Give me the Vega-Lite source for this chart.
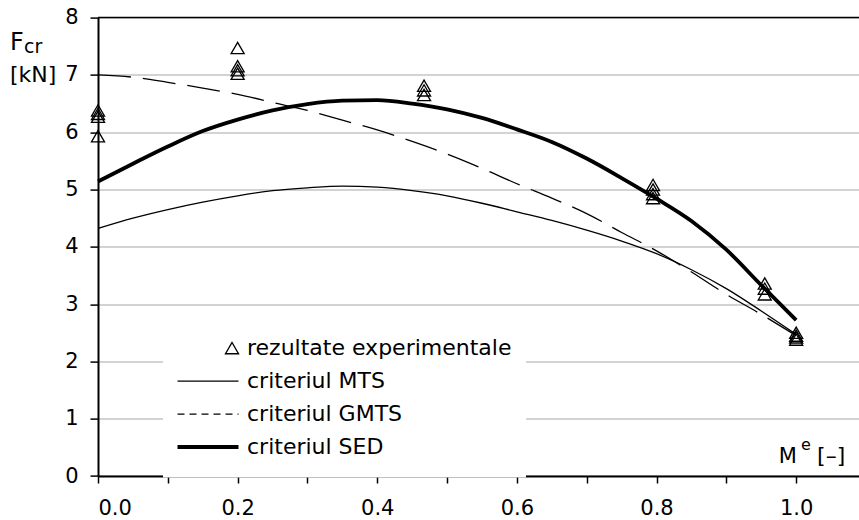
{
  "$schema": "https://vega.github.io/schema/vega-lite/v6.json",
  "width": 761,
  "height": 458.4,
  "autosize": {"type": "none"},
  "padding": {"left": 98, "top": 17.6, "right": 0, "bottom": 44},
  "background": "white",
  "config": {"view": {"stroke": null}, "font": "DejaVu Sans"},
  "datasets": {
    "curves": [
      {"x": 0.0, "F": 4.32, "series": "criteriul MTS"},
      {"x": 0.05, "F": 4.5, "series": "criteriul MTS"},
      {"x": 0.1, "F": 4.65, "series": "criteriul MTS"},
      {"x": 0.15, "F": 4.78, "series": "criteriul MTS"},
      {"x": 0.2, "F": 4.89, "series": "criteriul MTS"},
      {"x": 0.25, "F": 4.98, "series": "criteriul MTS"},
      {"x": 0.3, "F": 5.03, "series": "criteriul MTS"},
      {"x": 0.35, "F": 5.06, "series": "criteriul MTS"},
      {"x": 0.4, "F": 5.04, "series": "criteriul MTS"},
      {"x": 0.45, "F": 4.98, "series": "criteriul MTS"},
      {"x": 0.5, "F": 4.89, "series": "criteriul MTS"},
      {"x": 0.55, "F": 4.76, "series": "criteriul MTS"},
      {"x": 0.6, "F": 4.61, "series": "criteriul MTS"},
      {"x": 0.65, "F": 4.46, "series": "criteriul MTS"},
      {"x": 0.7, "F": 4.29, "series": "criteriul MTS"},
      {"x": 0.75, "F": 4.1, "series": "criteriul MTS"},
      {"x": 0.8, "F": 3.88, "series": "criteriul MTS"},
      {"x": 0.85, "F": 3.6, "series": "criteriul MTS"},
      {"x": 0.9, "F": 3.27, "series": "criteriul MTS"},
      {"x": 0.95, "F": 2.88, "series": "criteriul MTS"},
      {"x": 1.0, "F": 2.47, "series": "criteriul MTS"},
      {"x": 0.0, "F": 7.0, "series": "criteriul GMTS"},
      {"x": 0.05, "F": 6.96, "series": "criteriul GMTS"},
      {"x": 0.1, "F": 6.87, "series": "criteriul GMTS"},
      {"x": 0.15, "F": 6.77, "series": "criteriul GMTS"},
      {"x": 0.2, "F": 6.66, "series": "criteriul GMTS"},
      {"x": 0.25, "F": 6.52, "series": "criteriul GMTS"},
      {"x": 0.3, "F": 6.38, "series": "criteriul GMTS"},
      {"x": 0.35, "F": 6.21, "series": "criteriul GMTS"},
      {"x": 0.4, "F": 6.04, "series": "criteriul GMTS"},
      {"x": 0.45, "F": 5.84, "series": "criteriul GMTS"},
      {"x": 0.5, "F": 5.62, "series": "criteriul GMTS"},
      {"x": 0.55, "F": 5.37, "series": "criteriul GMTS"},
      {"x": 0.6, "F": 5.1, "series": "criteriul GMTS"},
      {"x": 0.65, "F": 4.85, "series": "criteriul GMTS"},
      {"x": 0.7, "F": 4.58, "series": "criteriul GMTS"},
      {"x": 0.75, "F": 4.25, "series": "criteriul GMTS"},
      {"x": 0.8, "F": 3.93, "series": "criteriul GMTS"},
      {"x": 0.85, "F": 3.56, "series": "criteriul GMTS"},
      {"x": 0.9, "F": 3.17, "series": "criteriul GMTS"},
      {"x": 0.95, "F": 2.82, "series": "criteriul GMTS"},
      {"x": 1.0, "F": 2.45, "series": "criteriul GMTS"},
      {"x": 0.0, "F": 5.14, "series": "criteriul SED"},
      {"x": 0.05, "F": 5.45, "series": "criteriul SED"},
      {"x": 0.1, "F": 5.75, "series": "criteriul SED"},
      {"x": 0.15, "F": 6.02, "series": "criteriul SED"},
      {"x": 0.2, "F": 6.22, "series": "criteriul SED"},
      {"x": 0.25, "F": 6.38, "series": "criteriul SED"},
      {"x": 0.3, "F": 6.49, "series": "criteriul SED"},
      {"x": 0.35, "F": 6.55, "series": "criteriul SED"},
      {"x": 0.4, "F": 6.56, "series": "criteriul SED"},
      {"x": 0.45, "F": 6.5, "series": "criteriul SED"},
      {"x": 0.5, "F": 6.4, "series": "criteriul SED"},
      {"x": 0.55, "F": 6.25, "series": "criteriul SED"},
      {"x": 0.6, "F": 6.05, "series": "criteriul SED"},
      {"x": 0.65, "F": 5.83, "series": "criteriul SED"},
      {"x": 0.7, "F": 5.54, "series": "criteriul SED"},
      {"x": 0.75, "F": 5.2, "series": "criteriul SED"},
      {"x": 0.8, "F": 4.84, "series": "criteriul SED"},
      {"x": 0.85, "F": 4.45, "series": "criteriul SED"},
      {"x": 0.9, "F": 3.95, "series": "criteriul SED"},
      {"x": 0.95, "F": 3.33, "series": "criteriul SED"},
      {"x": 1.0, "F": 2.72, "series": "criteriul SED"}
    ],
    "points": [
      {"x": 0.0, "F": 6.38, "series": "rezultate experimentale"},
      {"x": 0.0, "F": 6.32, "series": "rezultate experimentale"},
      {"x": 0.0, "F": 6.27, "series": "rezultate experimentale"},
      {"x": 0.0, "F": 5.93, "series": "rezultate experimentale"},
      {"x": 0.2, "F": 7.47, "series": "rezultate experimentale"},
      {"x": 0.2, "F": 7.15, "series": "rezultate experimentale"},
      {"x": 0.2, "F": 7.08, "series": "rezultate experimentale"},
      {"x": 0.2, "F": 7.02, "series": "rezultate experimentale"},
      {"x": 0.467, "F": 6.81, "series": "rezultate experimentale"},
      {"x": 0.467, "F": 6.73, "series": "rezultate experimentale"},
      {"x": 0.467, "F": 6.65, "series": "rezultate experimentale"},
      {"x": 0.795, "F": 5.08, "series": "rezultate experimentale"},
      {"x": 0.795, "F": 5.0, "series": "rezultate experimentale"},
      {"x": 0.795, "F": 4.92, "series": "rezultate experimentale"},
      {"x": 0.795, "F": 4.85, "series": "rezultate experimentale"},
      {"x": 0.955, "F": 3.36, "series": "rezultate experimentale"},
      {"x": 0.955, "F": 3.27, "series": "rezultate experimentale"},
      {"x": 0.955, "F": 3.17, "series": "rezultate experimentale"},
      {"x": 1.0, "F": 2.5, "series": "rezultate experimentale"},
      {"x": 1.0, "F": 2.45, "series": "rezultate experimentale"},
      {"x": 1.0, "F": 2.42, "series": "rezultate experimentale"},
      {"x": 1.0, "F": 2.38, "series": "rezultate experimentale"}
    ]
  },
  "layer": [
    {
      "data": {"values": [{}]},
      "mark": {"type": "rule", "color": "black", "strokeWidth": 1.5},
      "encoding": {"y": {"datum": 8, "type": "quantitative"}}
    },
    {
      "data": {"name": "curves"},
      "transform": [{"filter": "datum.series === 'criteriul MTS'"}],
      "mark": {"type": "line", "strokeWidth": 1.3, "interpolate": "monotone"},
      "encoding": {
        "x": {
          "field": "x", "type": "quantitative",
          "scale": {"domain": [0, 1.09], "nice": false, "zero": false},
          "axis": {
            "values": [0, 0.1, 0.2, 0.3, 0.4, 0.5, 0.6, 0.7, 0.8, 0.9, 1.0],
            "labelExpr": "round(datum.value * 10) % 2 == 0 ? format(datum.value, '.1f') : ''",
            "labelOverlap": false,
            "grid": false,
            "title": null,
            "domainColor": "black",
            "domainWidth": 2,
            "tickColor": "black",
            "tickWidth": 1.5,
            "tickSize": 7,
            "labelFontSize": 21,
            "labelColor": "black",
            "labelPadding": 14
          }
        },
        "y": {
          "field": "F", "type": "quantitative",
          "scale": {"domain": [0, 8], "nice": false},
          "axis": {
            "values": [0, 1, 2, 3, 4, 5, 6, 7, 8],
            "format": "d",
            "grid": true,
            "gridColor": "#c4c4c4",
            "gridWidth": 1.5,
            "title": null,
            "domainColor": "black",
            "domainWidth": 2,
            "tickColor": "black",
            "tickWidth": 1.5,
            "tickSize": 8,
            "labelFontSize": 21,
            "labelColor": "black",
            "labelPadding": 12
          }
        },
        "color": {
          "field": "series", "type": "nominal",
          "scale": {
            "domain": ["rezultate experimentale", "criteriul MTS", "criteriul GMTS", "criteriul SED"],
            "range": ["black", "black", "black", "black"]
          },
          "legend": {
            "title": null,
            "orient": "none",
            "legendX": 65,
            "legendY": 300,
            "direction": "vertical",
            "columns": 1,
            "padding": 14,
            "fillColor": "white",
            "clipHeight": 33,
            "rowPadding": 0,
            "labelFontSize": 22,
            "labelColor": "black",
            "labelOffset": 48,
            "labelLimit": 500,
            "symbolType": "stroke",
            "symbolSize": 3721,
            "encode": {
              "symbols": {
                "update": {
                  "shape": {"signal": "datum.value === 'rezultate experimentale' ? 'triangle-up' : 'stroke'"},
                  "size": {"signal": "datum.value === 'rezultate experimentale' ? 170 : 3721"},
                  "x": {"signal": "datum.value === 'rezultate experimentale' ? 55 : 31"},
                  "fill": {"value": "transparent"},
                  "stroke": {"value": "black"},
                  "opacity": {"value": 1},
                  "strokeOpacity": {"value": 1},
                  "strokeDash": {"signal": "datum.value === 'criteriul GMTS' ? [7, 5] : [1, 0]"},
                  "strokeWidth": {"signal": "datum.value === 'criteriul SED' ? 4 : 1.3"}
                }
              }
            }
          }
        }
      }
    },
    {
      "data": {"name": "curves"},
      "transform": [{"filter": "datum.series === 'criteriul GMTS'"}],
      "mark": {"type": "line", "strokeWidth": 1.3, "strokeDash": [33, 12], "interpolate": "monotone"},
      "encoding": {
        "x": {"field": "x", "type": "quantitative"},
        "y": {"field": "F", "type": "quantitative"},
        "color": {"field": "series", "type": "nominal"}
      }
    },
    {
      "data": {"name": "curves"},
      "transform": [{"filter": "datum.series === 'criteriul SED'"}],
      "mark": {"type": "line", "strokeWidth": 3.8, "interpolate": "monotone"},
      "encoding": {
        "x": {"field": "x", "type": "quantitative"},
        "y": {"field": "F", "type": "quantitative"},
        "color": {"field": "series", "type": "nominal"}
      }
    },
    {
      "data": {"name": "points"},
      "mark": {"type": "point", "shape": "triangle-up", "filled": false, "size": 170, "strokeWidth": 1.3, "opacity": 1},
      "encoding": {
        "x": {"field": "x", "type": "quantitative"},
        "y": {"field": "F", "type": "quantitative"},
        "color": {"field": "series", "type": "nominal"}
      }
    },
    {
      "data": {"values": [{}]},
      "mark": {"type": "text", "align": "left", "baseline": "alphabetic", "fontSize": 24, "color": "black"},
      "encoding": {"x": {"datum": -0.126, "type": "quantitative"}, "y": {"datum": 7.43, "type": "quantitative"}, "text": {"value": "F"}}
    },
    {
      "data": {"values": [{}]},
      "mark": {"type": "text", "align": "left", "baseline": "alphabetic", "fontSize": 19, "color": "black"},
      "encoding": {"x": {"datum": -0.106, "type": "quantitative"}, "y": {"datum": 7.38, "type": "quantitative"}, "text": {"value": "cr"}}
    },
    {
      "data": {"values": [{}]},
      "mark": {"type": "text", "align": "left", "baseline": "alphabetic", "fontSize": 22, "color": "black"},
      "encoding": {"x": {"datum": -0.126, "type": "quantitative"}, "y": {"datum": 6.88, "type": "quantitative"}, "text": {"value": "[kN]"}}
    },
    {
      "data": {"values": [{}]},
      "mark": {"type": "text", "align": "left", "baseline": "alphabetic", "fontSize": 21, "color": "black"},
      "encoding": {"x": {"datum": 0.975, "type": "quantitative"}, "y": {"datum": 0.22, "type": "quantitative"}, "text": {"value": "M"}}
    },
    {
      "data": {"values": [{}]},
      "mark": {"type": "text", "align": "left", "baseline": "alphabetic", "fontSize": 16, "color": "black"},
      "encoding": {"x": {"datum": 1.007, "type": "quantitative"}, "y": {"datum": 0.46, "type": "quantitative"}, "text": {"value": "e"}}
    },
    {
      "data": {"values": [{}]},
      "mark": {"type": "text", "align": "left", "baseline": "alphabetic", "fontSize": 22, "color": "black"},
      "encoding": {"x": {"datum": 1.03, "type": "quantitative"}, "y": {"datum": 0.22, "type": "quantitative"}, "text": {"value": "[–]"}}
    }
  ]
}
